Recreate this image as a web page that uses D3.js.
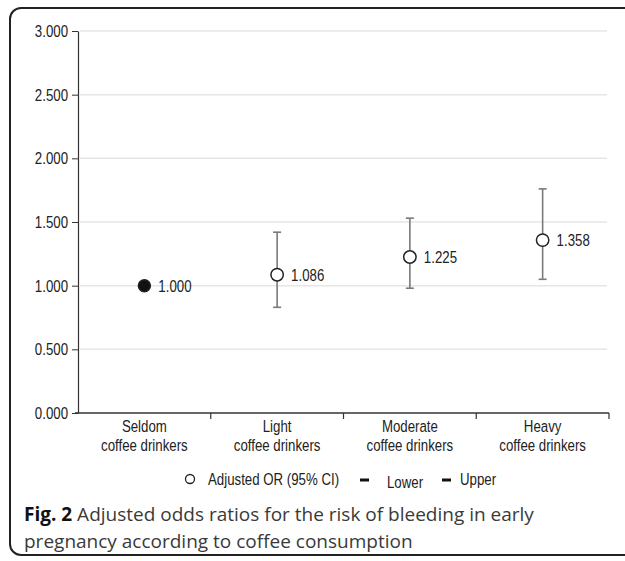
<!DOCTYPE html>
<html>
<head>
<meta charset="utf-8">
<script src="https://cdn.jsdelivr.net/npm/d3@7"></script>
<style>
  html, body { margin: 0; padding: 0; background: #fff; }
  svg { display: block; }
  .lbl { font-family: "Liberation Sans", Arial, sans-serif; font-size: 17px; fill: #222; }
  .cap { font-family: "Open Sans", "Noto Sans", sans-serif; font-size: 19px; fill: #3a3a3a; }
</style>
</head>
<body>
<svg id="chart" width="625" height="561"></svg>
<script>
// ---- data ----
const categories = ["Seldom", "Light", "Moderate", "Heavy"];
const orValues   = [1.000, 1.086, 1.225, 1.358];
const ciLower    = [null, 0.83, 0.98, 1.05];
const ciUpper    = [null, 1.42, 1.53, 1.76];
const yTicks     = [0, 0.5, 1, 1.5, 2, 2.5, 3];
const legendItems = ["Adjusted OR (95% CI)", "Lower", "Upper"];

const svg = d3.select("#chart");
const SQ = 0.78;   // the source uses a condensed sans; squeeze horizontally
const narrow = (sel, ax) => sel.attr("transform", d => {
  const a = typeof ax === "function" ? ax(d) : ax;
  return `translate(${a},0) scale(${SQ},1) translate(${-a},0)`;
});

// rounded frame (runs off the right edge like the source)
svg.append("rect")
  .attr("x", 10).attr("y", 8).attr("width", 640).attr("height", 547)
  .attr("rx", 11).attr("fill", "none").attr("stroke", "#222").attr("stroke-width", 2);

const x = d3.scaleBand().domain(categories).range([78, 609]).padding(0);
const y = d3.scaleLinear().domain([0, 3]).range([413, 31]);

// gridlines
svg.append("g").selectAll("line").data(yTicks.filter(d => d > 0)).join("line")
  .attr("x1", 80).attr("x2", 607)
  .attr("y1", d => y(d)).attr("y2", d => y(d))
  .attr("stroke", "#e6e6e6").attr("stroke-width", 1.5);

// y axis
const yAxis = svg.append("g").attr("transform", "translate(78,0)")
  .call(d3.axisLeft(y).tickValues(yTicks).tickFormat(d3.format(".3f")).tickSize(6).tickSizeOuter(0).tickPadding(4));
yAxis.select(".domain").attr("stroke", "#333").attr("stroke-width", 1.2);
yAxis.selectAll(".tick line").attr("stroke", "#333");
yAxis.selectAll(".tick text").attr("class", "lbl").attr("fill", "#222").call(narrow, -10);

// x axis: line with ticks at band boundaries
const xg = svg.append("g");
xg.append("line").attr("x1", 75).attr("x2", x.range()[1])
  .attr("y1", y(0)).attr("y2", y(0)).attr("stroke", "#333").attr("stroke-width", 1.5);
xg.selectAll("line.tk").data(categories).join("line").attr("class", "tk")
  .attr("x1", d => x(d) + x.bandwidth()).attr("x2", d => x(d) + x.bandwidth())
  .attr("y1", y(0)).attr("y2", y(0) + 6).attr("stroke", "#333").attr("stroke-width", 1.2);

const mid = d => x(d) + x.bandwidth() / 2;
const catLab = xg.selectAll("text").data(categories).join("text")
  .attr("class", "lbl").attr("text-anchor", "middle").attr("x", mid).call(narrow, mid);
catLab.append("tspan").attr("x", mid).attr("y", 432).text(d => d);
catLab.append("tspan").attr("x", mid).attr("y", 451).text("coffee drinkers");

// points
const pts = categories.map((c, i) => ({ c, v: orValues[i], lo: ciLower[i], hi: ciUpper[i] }));
const cx = d => mid(d.c);

const bars = svg.append("g").attr("stroke", "#7a7a7a").attr("stroke-width", 1.6);
pts.filter(d => d.lo != null).forEach(d => {
  bars.append("line").attr("x1", cx(d)).attr("x2", cx(d)).attr("y1", y(d.lo)).attr("y2", y(d.hi));
  bars.append("line").attr("x1", cx(d) - 4).attr("x2", cx(d) + 4).attr("y1", y(d.lo)).attr("y2", y(d.lo));
  bars.append("line").attr("x1", cx(d) - 4).attr("x2", cx(d) + 4).attr("y1", y(d.hi)).attr("y2", y(d.hi));
});

svg.append("g").selectAll("circle").data(pts).join("circle")
  .attr("cx", cx).attr("cy", d => y(d.v))
  .attr("r", d => d.lo == null ? 6 : 6.2)
  .attr("fill", d => d.lo == null ? "#111" : "#fff")
  .attr("stroke", "#222").attr("stroke-width", 1.5);

svg.append("g").selectAll("text").data(pts).join("text")
  .attr("class", "lbl").attr("x", d => cx(d) + 14).attr("y", d => y(d.v))
  .attr("dy", "0.35em").text(d => d3.format(".3f")(d.v))
  .call(narrow, d => cx(d) + 14);

// legend
const lg = svg.append("g");
lg.append("circle").attr("cx", 190).attr("cy", 479).attr("r", 4.5)
  .attr("fill", "#fff").attr("stroke", "#222").attr("stroke-width", 1.3);
lg.append("text").attr("class", "lbl").attr("x", 208).attr("y", 485).text(legendItems[0]).call(narrow, 208);
[[360, 387, 488, legendItems[1]], [442, 460, 485, legendItems[2]]].forEach(([dx, tx, ty, t]) => {
  lg.append("line").attr("x1", dx).attr("x2", dx + 9).attr("y1", 480).attr("y2", 480)
    .attr("stroke", "#111").attr("stroke-width", 3);
  lg.append("text").attr("class", "lbl").attr("x", tx).attr("y", ty).text(t).call(narrow, tx);
});

// caption
const cap = svg.append("text").attr("class", "cap").attr("x", 24).attr("y", 521);
cap.append("tspan").attr("font-weight", "bold").attr("fill", "#111").text("Fig. 2");
cap.append("tspan").text(" Adjusted odds ratios for the risk of bleeding in early");
svg.append("text").attr("class", "cap").attr("x", 24).attr("y", 548)
  .text("pregnancy according to coffee consumption");
</script>
</body>
</html>
